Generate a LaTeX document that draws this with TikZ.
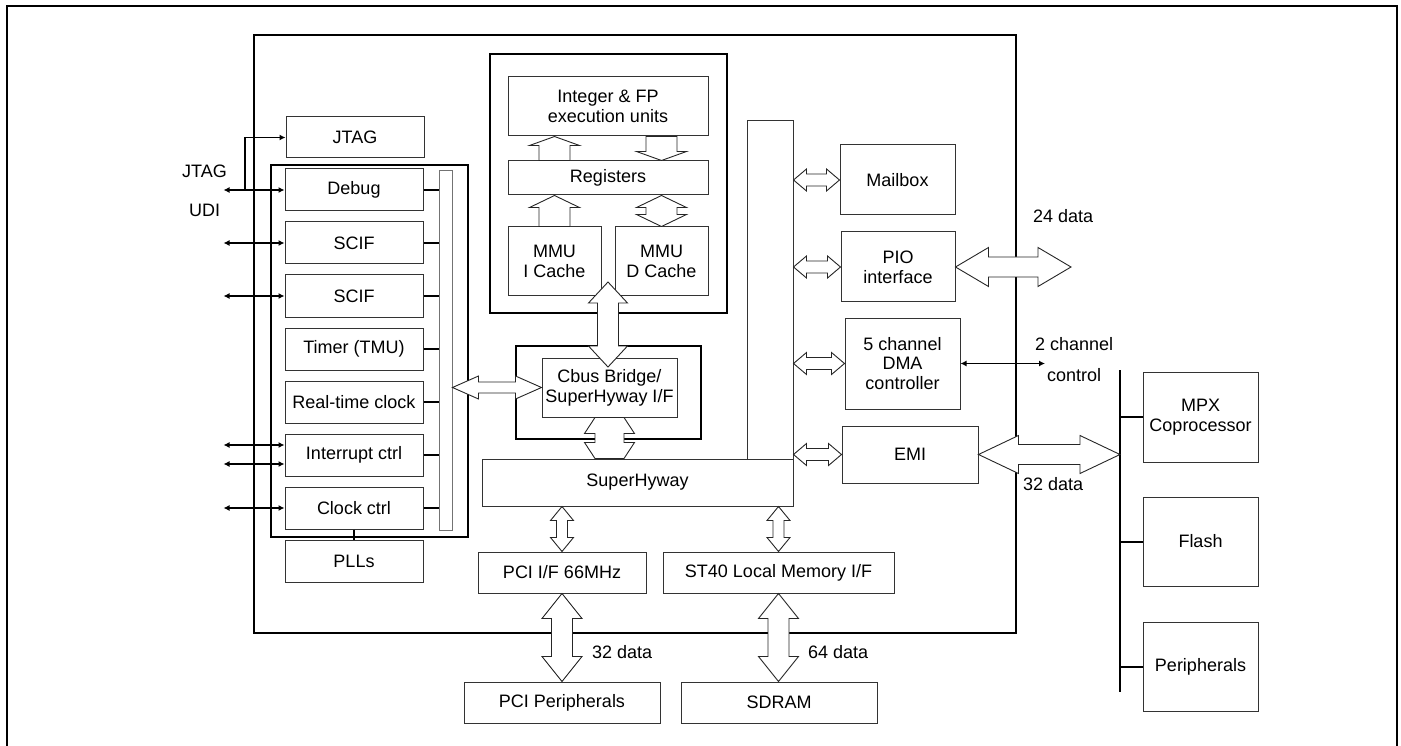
\documentclass[tikz,border=0pt]{standalone}
\usepackage{fontspec}
\setmainfont{Liberation Sans}
\usetikzlibrary{calc,arrows.meta}

% block arrows: horizontal double (left, right, shaft, head, head length)
\newcommand{\hdarrow}[5]{%
  \draw[blk] let \p1=(#1), \p2=(#2) in
    (\x1,\y1) -- (\x1+#5pt,\y1+#4pt) -- (\x1+#5pt,\y1+#3pt) -- (\x2-#5pt,\y1+#3pt)
    -- (\x2-#5pt,\y1+#4pt) -- (\x2,\y1) -- (\x2-#5pt,\y1-#4pt) -- (\x2-#5pt,\y1-#3pt)
    -- (\x1+#5pt,\y1-#3pt) -- (\x1+#5pt,\y1-#4pt) -- cycle;}
% vertical double (top, bottom, shaft, head, head length, tip)
\newcommand{\vdarrow}[6]{%
  \draw[blk] let \p1=(#1), \p2=(#2) in
    (\x1-#6pt,\y1) -- (\x1+#6pt,\y1) -- (\x1+#4pt,\y1-#5pt) -- (\x1+#3pt,\y1-#5pt)
    -- (\x1+#3pt,\y2+#5pt) -- (\x1+#4pt,\y2+#5pt) -- (\x1+#6pt,\y2) -- (\x1-#6pt,\y2)
    -- (\x1-#4pt,\y2+#5pt) -- (\x1-#3pt,\y2+#5pt) -- (\x1-#3pt,\y1-#5pt)
    -- (\x1-#4pt,\y1-#5pt) -- cycle;}
% vertical single (tail, tip, shaft, head, head length)
\newcommand{\vsarrow}[5]{%
  \draw[blk] let \p1=(#1), \p2=(#2), \n1={ifthenelse(\y2>\y1,1,-1)} in
    (\x1-#3pt,\y1) -- (\x1-#3pt,{\y2-\n1*#5pt}) -- (\x1-#4pt,{\y2-\n1*#5pt}) -- (\x1,\y2)
    -- (\x1+#4pt,{\y2-\n1*#5pt}) -- (\x1+#3pt,{\y2-\n1*#5pt}) -- (\x1+#3pt,\y1) -- cycle;}

\begin{document}
\begin{tikzpicture}[x=1pt,y=-1pt,
    box/.style={draw=black!80, line width=1pt, fill=white, inner sep=0pt, align=center,
      font=\fontsize{18}{20}\selectfont},
    thickbox/.style={draw=black, line width=2.2pt, inner sep=0pt},
    lbl/.style={inner sep=0pt, anchor=base west, font=\fontsize{18}{20}\selectfont},
    sig/.style={line width=1.4pt, {Latex[length=6pt,width=6pt]}-{Latex[length=6pt,width=6pt]}},
    blk/.style={draw=black!85, line width=0.9pt, fill=white},
    stub/.style={line width=2pt}]
  \useasboundingbox (0,0) rectangle (1401,746);

  % frame and chip
  \draw[line width=2.2pt] (7,746) -- (7,6) -- (1397,6) -- (1397,746);
  \node[thickbox, minimum width=762pt, minimum height=598pt] (chip) at (635,334) {};

  % peripherals
  \node[thickbox, minimum width=197pt, minimum height=372pt] (pgroup) at (369.5,351) {};
  \node[box, minimum width=138pt, minimum height=41pt] (jtag) at (355,137.5) {JTAG};
  \node[box, minimum width=138pt, minimum height=42pt] (debug) at (354,190) {Debug};
  \node[box, minimum width=138pt, minimum height=42pt] (scifa) at (354,243) {SCIF};
  \node[box, minimum width=138pt, minimum height=42pt] (scifb) at (354,296) {SCIF};
  \node[box, minimum width=138pt, minimum height=42pt] (timer) at (354,349) {Timer (TMU)};
  \node[box, minimum width=138pt, minimum height=42pt] (rtc) at (354,402) {Real-time clock};
  \node[box, minimum width=138pt, minimum height=42pt] (intc) at (354,455) {Interrupt ctrl};
  \node[box, minimum width=138pt, minimum height=42pt] (clkctrl) at (354,508) {Clock ctrl};
  \node[box, minimum width=138pt, minimum height=42pt] (plls) at (354,561) {PLLs};
  \node[box, draw=black!55, minimum width=13pt, minimum height=359pt] (pbus) at (445.5,350.5) {};

  \foreach \b in {debug,scifa,scifb,timer,rtc,intc,clkctrl}
    \draw[stub] (\b.east) -- (\b.east -| pbus.west);
  \draw[stub] (clkctrl.south) -- (plls.north);

  \foreach \b in {debug,scifa,scifb,clkctrl}
    \draw[sig] ([xshift=-61pt]\b.west) -- (\b.west);
  \draw[sig] ([xshift=-61pt,yshift=10pt]intc.west) -- ([yshift=10pt]intc.west);
  \draw[sig] ([xshift=-61pt,yshift=-9pt]intc.west) -- ([yshift=-9pt]intc.west);
  \coordinate (jj) at (245,190);
  \draw[line width=1.4pt, -{Latex[length=6pt,width=6pt]}] (jj) |- (jtag.west);
  \node[lbl] (jtaglbl) at (182,178) {JTAG};
  \node[lbl] (udilbl) at (189,216.5) {UDI};

  % CPU core
  \node[thickbox, minimum width=237pt, minimum height=259pt] (cpu) at (608.5,183.5) {};
  \node[box, minimum width=200pt, minimum height=59pt] (int) at (608,106.5) {Integer \& FP\\execution units};
  \node[box, minimum width=200pt, minimum height=34pt] (regs) at (608,178) {Registers};
  \node[box, minimum width=93pt, minimum height=69pt] (immu) at (554.5,261.5) {MMU\\I Cache};
  \node[box, minimum width=93pt, minimum height=69pt] (dmmu) at (661.5,261.5) {MMU\\D Cache};

  \vsarrow{immu.north |- regs.north}{immu.north |- int.south}{15.5}{25}{9}
  \vsarrow{dmmu.north |- int.south}{dmmu.north |- regs.north}{15.5}{25}{9}
  \vsarrow{immu.north}{immu.north |- regs.south}{15.5}{25}{12}
  \vdarrow{dmmu.north |- regs.south}{dmmu.north}{15.5}{25}{12}{0}

  % Cbus bridge
  \node[thickbox, minimum width=185pt, minimum height=93pt] (cbusout) at (608.5,392.5) {};
  \node[box, minimum width=135pt, minimum height=59pt] (cbus) at (609.5,387.5) {Cbus Bridge/\\SuperHyway I/F};
  \coordinate (cputip) at (608,282);
  \coordinate (cbustip) at (608,367);
  \vdarrow{cputip}{cbustip}{10.5}{19.5}{21}{0}
  \hdarrow{cbus.west -| pbus.east}{cbus.west}{5.5}{11.5}{26}

  % SuperHyway
  \node[box, minimum width=46pt, minimum height=338pt] (vbar) at (770,290) {};
  \node[box, minimum width=311pt, minimum height=47pt] (shy) at (637.5,482.5) {SuperHyway};
  \vdarrow{cbus.south}{cbus.south |- shy.north}{14.5}{25}{16}{14.5}

  \node[box, minimum width=168pt, minimum height=41pt] (pci) at (562,572.5) {PCI I/F 66MHz};
  \node[box, minimum width=231pt, minimum height=41pt] (st40) at (778.5,572.5) {ST40 Local Memory I/F};
  \node[box, minimum width=196pt, minimum height=41pt] (pcip) at (562,702.5) {PCI Peripherals};
  \node[box, minimum width=196pt, minimum height=41pt] (sdram) at (779,702.5) {SDRAM};
  \vdarrow{pci.north |- shy.south}{pci.north}{5.5}{11.5}{14}{0}
  \vdarrow{st40.north |- shy.south}{st40.north}{5.5}{11.5}{14}{0}
  \vdarrow{pci.south}{pcip.north}{10.5}{20}{25}{0}
  \vdarrow{st40.south}{sdram.north -| st40.south}{10.5}{20}{25}{0}
  \node[lbl] (pcidata) at (592,658) {32 data};
  \node[lbl] (memdata) at (808,658) {64 data};

  % right hand units
  \node[box, minimum width=115pt, minimum height=70pt] (mbox) at (897.5,180) {Mailbox};
  \node[box, minimum width=114pt, minimum height=70pt] (pio) at (898,267) {PIO\\interface};
  \node[box, minimum width=115pt, minimum height=91pt, font=\fontsize{18}{19.5}\selectfont] (dma) at (902.5,363.5) {5 channel\\DMA\\controller};
  \node[box, minimum width=136pt, minimum height=57pt] (emi) at (910,454.5) {EMI};
  \foreach \b in {mbox,pio,dma,emi}
    {\hdarrow{\b.west -| vbar.east}{\b.west}{6}{11}{13}}

  \coordinate (pioend) at (1071,267);
  \hdarrow{pio.east}{pio.east -| pioend}{10}{19.5}{33}
  \node[lbl] (piodata) at (1033,223) {24 data};

  \coordinate (dmaend) at (1045,365);
  \draw[sig] (dma.east) -- (dma.east -| dmaend);
  \node[lbl] (chan) at (1035,350) {2 channel};
  \node[lbl] (ctrl) at (1047,381.5) {control};

  % external bus
  \coordinate (xbtop) at (1120,370);
  \coordinate (xbbot) at (1120,692);
  \draw[line width=2.2pt] (xbtop) -- (xbbot);
  \hdarrow{emi.east}{emi.east -| xbtop}{10}{19}{40}
  \node[lbl] (emidata) at (1023,490) {32 data};

  \node[box, minimum width=115pt, minimum height=90pt] (mpx) at (1200.5,417) {MPX\\Coprocessor};
  \node[box, minimum width=115pt, minimum height=89pt] (flash) at (1200.5,541.5) {Flash};
  \node[box, minimum width=115pt, minimum height=89pt] (periph) at (1200.5,666.5) {Peripherals};
  \foreach \b in {mpx,flash,periph}
    \draw[stub] (\b.west -| xbtop) -- (\b.west);
\end{tikzpicture}
\end{document}
